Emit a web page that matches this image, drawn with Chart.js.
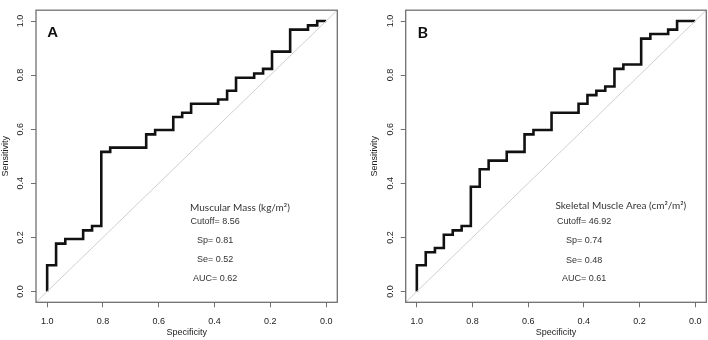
<!DOCTYPE html>
<html>
<head>
<meta charset="utf-8">
<script src="https://cdn.jsdelivr.net/npm/chart.js@4"></script>
<style>
  html, body { margin: 0; padding: 0; background: #fff; }
  #wrap { position: relative; width: 708px; height: 340px; overflow: hidden; }
  canvas { position: absolute; top: 0; }
</style>
</head>
<body>
<div id="wrap">
  <canvas id="rocA" width="354" height="340" style="left:0"></canvas>
  <canvas id="rocB" width="339" height="340" style="left:369px"></canvas>
</div>
<script>
  // Ticks des deux axes
  const tickValues = [0, 0.2, 0.4, 0.6, 0.8, 1.0];

  // Diagonale (hasard), sur toute l'étendue des axes
  const diagSpec = [1.04, -0.04];
  const diagSens = [-0.04, 1.04];

  // Panel A - Muscular Mass
  const specA = [1, 0.968, 0.935, 0.871, 0.839, 0.806, 0.774, 0.645, 0.613, 0.548, 0.516,
                 0.484, 0.387, 0.355, 0.323, 0.258, 0.226, 0.194, 0.129, 0.065, 0.032, 0];
  const sensA = [0, 0.097, 0.177, 0.194, 0.226, 0.242, 0.516, 0.532, 0.581, 0.597, 0.645,
                 0.661, 0.694, 0.710, 0.742, 0.790, 0.806, 0.823, 0.887, 0.968, 0.984, 1];
  const titleA = 'Muscular Mass (kg/m²)';
  const statsA = ['Cutoff= 8.56', 'Sp= 0.81', 'Se= 0.52', 'AUC= 0.62'];

  // Panel B - Skeletal Muscle Area
  const specB = [1, 0.968, 0.935, 0.903, 0.871, 0.839, 0.806, 0.774, 0.742, 0.677, 0.613, 0.581,
                 0.516, 0.419, 0.387, 0.355, 0.323, 0.290, 0.258, 0.194, 0.161, 0.097, 0.065, 0];
  const sensB = [0, 0.097, 0.145, 0.161, 0.210, 0.226, 0.242, 0.387, 0.452, 0.484, 0.516, 0.581,
                 0.597, 0.661, 0.694, 0.726, 0.742, 0.758, 0.823, 0.839, 0.935, 0.952, 0.968, 1];
  const titleB = 'Skeletal Muscle Area (cm²/m²)';
  const statsB = ['Cutoff= 46.92', 'Sp= 0.74', 'Se= 0.48', 'AUC= 0.61'];

  const axisFont = '"Liberation Sans", Arial, sans-serif';

  // Cadre, labels Y tournés, lettre du panel et annotation
  const rocDecor = {
    id: 'rocDecor',
    afterDraw(chart, args, o) {
      const { ctx, chartArea: a, scales: { x, y } } = chart;
      ctx.save();
      ctx.strokeStyle = '#707070';
      ctx.lineWidth = 1.3;
      ctx.strokeRect(a.left, a.top, a.right - a.left, a.bottom - a.top);

      ctx.fillStyle = '#222';
      ctx.font = '9px ' + axisFont;
      ctx.textAlign = 'center';
      ctx.textBaseline = 'middle';
      tickValues.forEach(v => {
        ctx.save();
        ctx.translate(a.left - 15, y.getPixelForValue(v));
        ctx.rotate(-Math.PI / 2);
        ctx.fillText(v.toFixed(1), 0, 0);
        ctx.restore();
      });

      ctx.fillStyle = '#111';
      ctx.font = o.letterFont;
      ctx.fillText(o.letter, x.getPixelForValue(o.letterAt[0]), y.getPixelForValue(o.letterAt[1]));

      ctx.fillStyle = '#333';
      ctx.font = '10px Lato, sans-serif';
      ctx.fillText(o.title, x.getPixelForValue(o.titleAt[0]), y.getPixelForValue(o.titleAt[1]));
      ctx.font = '9px ' + axisFont;
      o.stats.forEach((s, i) => {
        ctx.fillText(s, x.getPixelForValue(o.statsX), y.getPixelForValue(o.statsY[i]));
      });
      ctx.restore();
    }
  };

  function makeRoc(id, spec, sens, deco) {
    return new Chart(document.getElementById(id), {
      type: 'line',
      data: {
        datasets: [{
          data: diagSpec.map((s, i) => ({ x: s, y: diagSens[i] })),
          borderColor: '#cfcfcf',
          borderWidth: 1,
          pointRadius: 0
        }, {
          data: spec.map((s, i) => ({ x: s, y: sens[i] })),
          borderColor: '#111',
          borderWidth: 2.6,
          pointRadius: 0,
          stepped: 'after',
          borderJoinStyle: 'miter'
        }]
      },
      options: {
        responsive: false,
        animation: false,
        layout: { padding: { top: 1, right: deco.padRight, left: 0, bottom: 0 } },
        plugins: {
          legend: { display: false },
          tooltip: { enabled: false },
          rocDecor: deco
        },
        scales: {
          x: {
            type: 'linear',
            reverse: true,
            min: -0.04,
            max: 1.04,
            afterBuildTicks: s => { s.ticks = tickValues.map(v => ({ value: v })); },
            afterFit: s => { s.height = 37.7; },
            grid: { drawOnChartArea: false, drawTicks: true, tickLength: 5, color: '#707070' },
            border: { display: false },
            ticks: {
              autoSkip: false, maxRotation: 0, padding: 9, color: '#222',
              font: { family: axisFont, size: 9 },
              callback: v => Number(v).toFixed(1)
            },
            title: {
              display: true, text: 'Specificity', color: '#222',
              font: { family: axisFont, size: 9 }, padding: { top: 0, bottom: 1.6 }
            }
          },
          y: {
            type: 'linear',
            min: -0.04,
            max: 1.04,
            afterBuildTicks: s => { s.ticks = tickValues.map(v => ({ value: v })); },
            afterFit: s => { s.width = deco.axisWidth; },
            grid: { drawOnChartArea: false, drawTicks: true, tickLength: 5, color: '#707070' },
            border: { display: false },
            ticks: { callback: () => '' },
            title: {
              display: true, text: 'Sensitivity', color: '#222',
              font: { family: axisFont, size: 9 }, padding: { top: 0.6, bottom: 0 }
            }
          }
        }
      },
      plugins: [rocDecor]
    });
  }

  makeRoc('rocA', specA, sensA, {
    axisWidth: 36, padRight: 16.7,
    letter: 'A', letterFont: 'bold 15px ' + axisFont, letterAt: [0.98, 0.957],
    title: titleA, titleAt: [0.309, 0.311],
    stats: statsA, statsX: 0.398, statsY: [0.257, 0.189, 0.117, 0.049]
  });

  makeRoc('rocB', specB, sensB, {
    axisWidth: 36.7, padRight: 1.7,
    letter: 'B', letterFont: 'bold 16px Lato, sans-serif', letterAt: [0.979, 0.956],
    title: titleB, titleAt: [0.267, 0.316],
    stats: statsB, statsX: 0.399, statsY: [0.257, 0.188, 0.116, 0.049]
  });
</script>
</body>
</html>
